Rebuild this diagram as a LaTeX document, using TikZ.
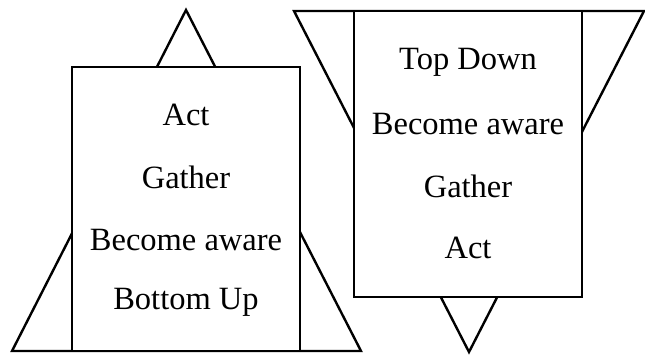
\documentclass[tikz,border=0pt]{standalone}
\usepackage{fontspec}
\setmainfont{Liberation Serif}
\begin{document}
\begin{tikzpicture}[x=1pt,y=-1pt,
  line/.style={draw=black,line width=2.4pt,line join=miter},
  panel/.style={line,fill=white},
  lbl/.style={font=\fontsize{32.5}{32.5}\selectfont,inner sep=0pt,anchor=center}]
\useasboundingbox (0,0) rectangle (645,355);
% left figure
\coordinate (lapex) at (186,10);
\coordinate (lbl1) at (12,351);
\coordinate (lbr) at (361,351);
\path[line] (lapex) -- (lbl1) -- (lbr) -- cycle;
\path[panel] (72,67) rectangle (300,351);
\node[lbl] (l1) at (186,115) {Act};
\node[lbl] (l2) at (186,177) {Gather};
\node[lbl] (l3) at (186,240) {Become aware};
\node[lbl] (l4) at (186,302) {Bottom Up};
% right figure
\coordinate (rtl) at (294,11);
\coordinate (rtr) at (644,11);
\coordinate (rapex) at (469,352);
\path[line] (rtl) -- (rtr) -- (rapex) -- cycle;
\path[panel] (354,11) rectangle (582,297);
\node[lbl] (r1) at (468,62) {Top Down};
\node[lbl] (r2) at (468,124) {Become aware};
\node[lbl] (r3) at (468,186) {Gather};
\node[lbl] (r4) at (468,248) {Act};
\end{tikzpicture}
\end{document}
